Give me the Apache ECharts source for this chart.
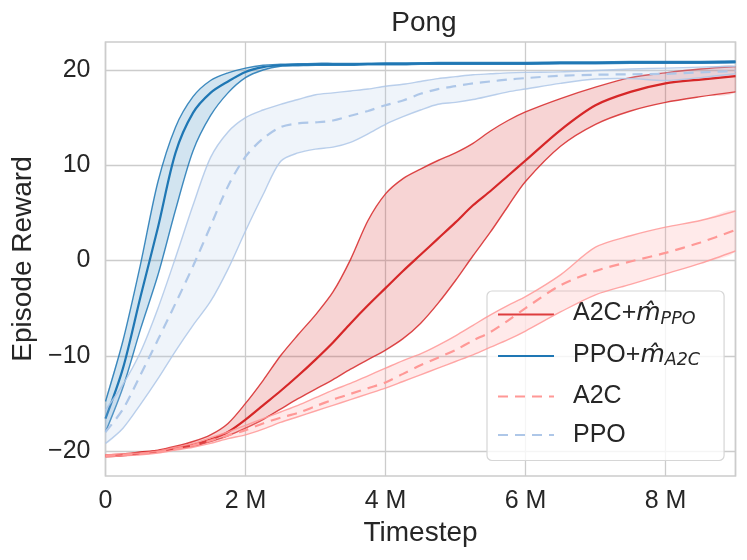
<!DOCTYPE html>
<html>
<head>
<meta charset="utf-8">
<script src="https://cdn.jsdelivr.net/npm/echarts@6/dist/echarts.min.js"></script>
<style>html,body{margin:0;padding:0;background:#fff}#c{width:747px;height:560px}</style>
</head>
<body>
<div id="c"></div>
<script>
// Timestep in millions
const xs = [0,0.25,0.5,0.75,1,1.25,1.5,1.75,2,2.25,2.5,2.75,3,3.25,3.5,3.75,4,4.25,4.5,4.75,5,5.25,5.5,5.75,6,6.5,7,7.5,8,8.5,9];

const a2cM_mean  = [-20.5,-20.4,-20.2,-20.0,-19.7,-19.35,-18.8,-18.0,-16.7,-15.2,-13.7,-12.1,-10.4,-8.6,-6.6,-4.7,-2.9,-1.1,0.6,2.3,4.0,5.8,7.3,8.9,10.5,13.7,16.3,17.7,18.6,19.0,19.35];
const a2cM_upper = [-20.4,-20.3,-20.1,-19.9,-19.5,-19.0,-18.3,-17.1,-15.0,-12.6,-10.0,-7.8,-5.7,-3.3,0.1,4.2,7.0,8.6,9.6,10.5,11.3,12.3,13.6,14.7,15.6,17.0,18.2,19.2,19.7,20.1,20.35];
const a2cM_lower = [-20.6,-20.5,-20.3,-20.1,-19.8,-19.5,-19.0,-18.4,-17.6,-16.7,-15.6,-14.5,-13.5,-12.5,-11.4,-10.4,-9.4,-8.2,-6.6,-4.5,-2.1,0.5,3.0,5.7,8.3,12.0,14.3,15.7,16.6,17.2,17.7];

const ppoM_mean  = [-16.6,-11.3,-3.8,3.5,11.3,15.5,17.6,18.8,19.8,20.3,20.5,20.55,20.6,20.6,20.6,20.65,20.65,20.65,20.7,20.7,20.7,20.7,20.7,20.7,20.7,20.75,20.75,20.8,20.8,20.8,20.85];
const ppoM_upper = [-14.8,-8.4,-0.4,8.3,14.0,17.2,18.9,19.7,20.2,20.5,20.6,20.65,20.7,20.7,20.7,20.7,20.75,20.75,20.75,20.8,20.8,20.8,20.8,20.8,20.8,20.85,20.85,20.9,20.9,20.9,20.95];
const ppoM_lower = [-18.0,-13.3,-7.2,-1.5,5.3,11.5,15.2,17.6,19.2,20.0,20.4,20.45,20.5,20.5,20.5,20.55,20.55,20.55,20.6,20.6,20.6,20.6,20.6,20.6,20.6,20.65,20.65,20.7,20.7,20.7,20.75];

const a2c_mean  = [-20.5,-20.4,-20.3,-20.1,-19.8,-19.4,-18.9,-18.35,-17.8,-17.1,-16.5,-16.0,-15.3,-14.6,-14.0,-13.4,-12.8,-11.9,-11.0,-10.2,-9.4,-8.4,-7.5,-6.3,-5.0,-2.6,-1.1,-0.1,0.8,1.9,3.2];
const a2c_upper = [-20.4,-20.3,-20.2,-20.0,-19.6,-19.2,-18.6,-18.0,-17.3,-16.6,-15.9,-15.2,-14.4,-13.6,-12.9,-12.1,-11.3,-10.5,-9.8,-8.9,-7.9,-6.8,-5.7,-4.7,-3.8,-1.5,1.4,2.6,3.5,4.2,5.2];
const a2c_lower = [-20.6,-20.5,-20.4,-20.2,-19.9,-19.6,-19.2,-18.7,-18.3,-17.7,-17.0,-16.4,-15.8,-15.2,-14.6,-14.0,-13.4,-12.7,-12.0,-11.3,-10.6,-9.9,-9.1,-8.3,-7.4,-5.4,-3.6,-2.5,-1.4,-0.3,1.0];

const ppo_mean  = [-18.0,-15.6,-12.0,-8.3,-4.5,-0.6,3.6,7.8,10.9,12.8,14.0,14.4,14.5,14.7,15.2,15.7,16.3,16.8,17.5,18.0,18.3,18.6,18.8,19.0,19.15,19.4,19.5,19.55,19.6,19.75,19.9];
const ppo_upper = [-15.7,-13.0,-9.6,-5.0,0.3,5.8,10.8,13.5,15.0,15.8,16.4,16.9,17.4,17.6,17.8,18.0,18.3,18.5,18.8,19.1,19.3,19.5,19.6,19.7,19.75,19.8,19.95,20.1,20.2,20.3,20.4];
const ppo_lower = [-19.2,-17.6,-15.1,-12.4,-9.5,-6.8,-4.3,-0.9,3.1,6.9,10.4,11.3,11.7,11.9,12.4,13.3,14.3,15.1,15.8,16.4,16.6,16.9,17.3,17.7,18.0,18.6,19.05,19.1,18.9,19.2,19.6];

const xTicks = [0,2,4,6,8];
const yTicks = [-20,-10,0,10,20];

const groups = [
  {name:'A2C+m̂_PPO', mean:a2cM_mean, upper:a2cM_upper, lower:a2cM_lower, color:'#d62728', fill:'rgba(214,39,40,0.2)', dash:'solid'},
  {name:'PPO+m̂_A2C', mean:ppoM_mean, upper:ppoM_upper, lower:ppoM_lower, color:'#1f77b4', fill:'rgba(31,119,180,0.2)', dash:'solid'},
  {name:'A2C', mean:a2c_mean, upper:a2c_upper, lower:a2c_lower, color:'#ff9896', fill:'rgba(255,152,150,0.2)', dash:[10,7]},
  {name:'PPO', mean:ppo_mean, upper:ppo_upper, lower:ppo_lower, color:'#aec7e8', fill:'rgba(174,199,232,0.2)', dash:[10,7]}
];

const S = 0.3;
const pair = arr => xs.map((x,i)=>[x, arr[i]]);
const series = [];
groups.forEach((g, gi) => {
  const z = 2 + gi;
  series.push({
    type:'custom', name: g.name + '_band', silent:true, clip:true, z: z,
    data:[[xs[0], g.lower[0]]],
    renderItem: (params, api) => {
      const up = xs.map((x,i)=>api.coord([x, g.upper[i]]));
      const lo = xs.map((x,i)=>api.coord([x, g.lower[i]]));
      const edgeStyle = {stroke:g.color, lineWidth:1.4, opacity:0.85, fill:null};
      return {type:'group', children:[
        {type:'polygon', shape:{points: up.concat(lo.slice().reverse()), smooth:S}, style:{fill:g.fill, stroke:null}},
        {type:'polyline', shape:{points: up, smooth:S}, style: edgeStyle},
        {type:'polyline', shape:{points: lo, smooth:S}, style: edgeStyle}
      ]};
    }
  });
  series.push({
    type:'line', name: g.name, data: pair(g.mean), showSymbol:false, symbol:'none', z: z,
    smooth:S,
    itemStyle:{color:g.color},
    lineStyle:{color:g.color, width:2.2, type:g.dash}
  });
});

const legendText = {
  'A2C+m̂_PPO': '{g| }{t|A2C+}{m|m̂}{s|PPO}',
  'PPO+m̂_A2C': '{g| }{t|PPO+}{m|m̂}{s|A2C}',
  'A2C': '{g| }{p|A2C}',
  'PPO': '{g| }{p|PPO}'
};

const fam = "'Liberation Sans', Arial, sans-serif";
const txt = '#262626';
const fmtY = v => (v < 0 ? '\u2212' + Math.abs(v) : String(v));

const chart = echarts.init(document.getElementById('c'), null, {renderer:'canvas'});
chart.setOption({
  animation:false,
  backgroundColor:'#ffffff',
  title:{
    text:'Pong', left:419, top:4, textAlign:'center',
    textStyle:{fontFamily:fam, fontSize:28, fontWeight:'normal', color:txt}
  },
  grid:{left:105.5, right:11.5, top:42, bottom:84, show:true, borderColor:'#cccccc', borderWidth:1.6, backgroundColor:'transparent'},
  xAxis:{
    type:'value', min:0, max:9, interval:2,
    name:'Timestep', nameLocation:'middle', nameGap:41,
    nameTextStyle:{fontFamily:fam, fontSize:28, color:txt},
    axisLine:{show:false}, axisTick:{show:false},
    axisLabel:{fontFamily:fam, fontSize:25, color:txt, margin:13, showMaxLabel:false,
      formatter: v => (v === 0 ? '0' : v + ' M')},
    splitLine:{show:true, lineStyle:{color:'#cccccc', width:1.3}}
  },
  yAxis:{
    type:'value', min:-22.62, max:22.94,
    name:'Episode Reward', nameLocation:'middle', nameGap:66,
    nameTextStyle:{fontFamily:fam, fontSize:28, color:txt},
    axisLine:{show:false},
    axisTick:{show:false, customValues:yTicks},
    axisLabel:{fontFamily:fam, fontSize:25, color:txt, margin:15, customValues:yTicks, formatter: fmtY},
    splitLine:{show:true, lineStyle:{color:'#cccccc', width:1.3}}
  },
  legend:{
    data: groups.map(g => g.name),
    orient:'vertical', left:487, top:291,
    padding:[10,24,13,10], itemGap:13.5,
    itemWidth:56, itemHeight:14,
    itemStyle:{opacity:0},
    backgroundColor:'rgba(255,255,255,0.8)', borderColor:'#d6d6d6', borderWidth:1.2, borderRadius:5,
    selectedMode:false,
    formatter: n => legendText[n],
    textStyle:{
      color:txt, fontFamily:fam, fontSize:25,
      rich:{
        g:{width:14, fontSize:25},
        t:{fontFamily:fam, fontSize:25, color:txt, lineHeight:27, padding:[0,0,3,0], verticalAlign:'top'},
        m:{fontFamily:"'DejaVu Sans', sans-serif", fontStyle:'italic', fontSize:25, color:txt, lineHeight:27, padding:[0,0,3,0], verticalAlign:'top'},
        s:{fontFamily:"'DejaVu Sans', sans-serif", fontStyle:'italic', fontSize:17.5, color:txt, lineHeight:18, verticalAlign:'bottom'},
        p:{fontFamily:fam, fontSize:25, color:txt, lineHeight:24}
      }
    }
  },
  series: series
});
</script>
</body>
</html>
